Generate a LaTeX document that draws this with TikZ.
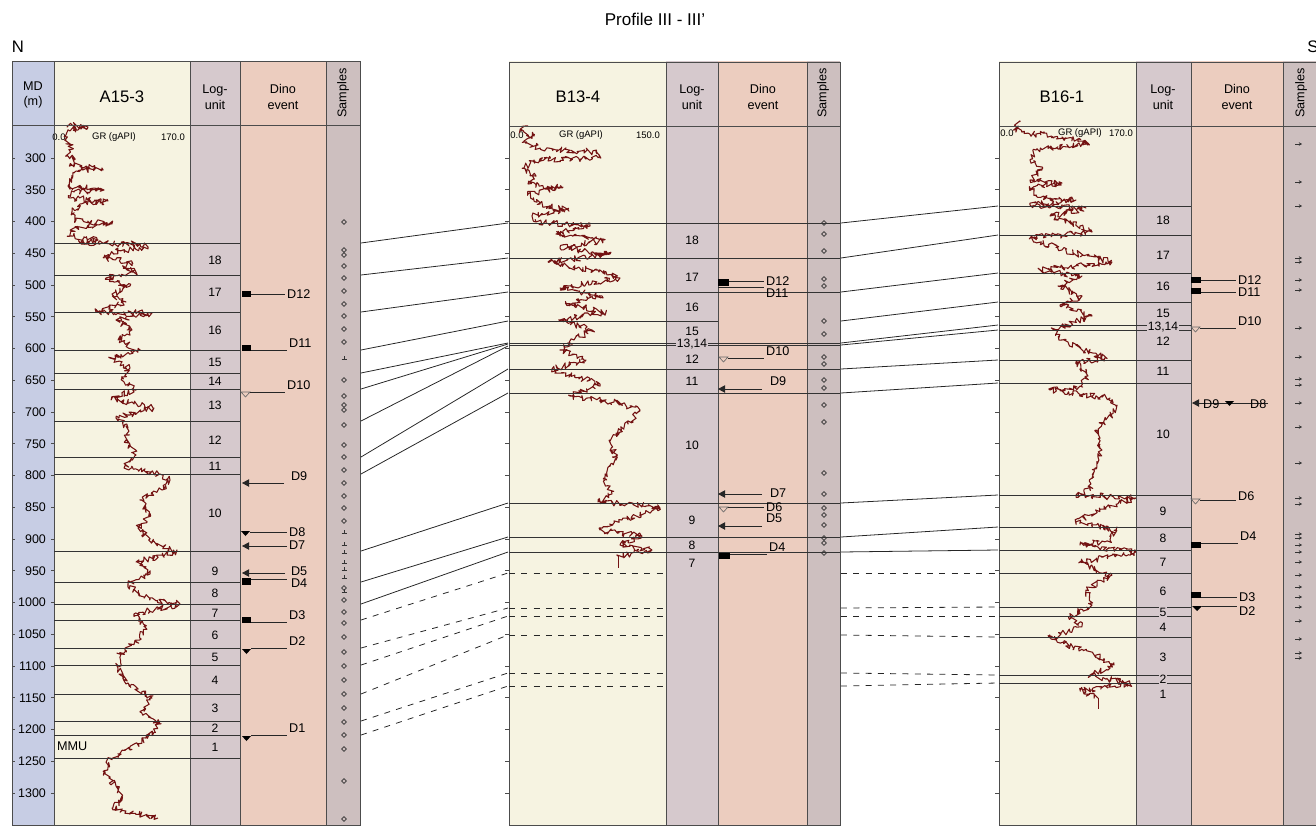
\documentclass[tikz,border=0pt]{standalone}
\usepackage{fontspec}
\setmainfont{Liberation Sans}
\usetikzlibrary{arrows.meta,shapes.geometric,decorations.pathmorphing}

\definecolor{mdcol}{RGB}{199,205,228}
\definecolor{grcol}{RGB}{246,243,225}
\definecolor{lucol}{RGB}{214,201,205}
\definecolor{dinocol}{RGB}{236,205,191}
\definecolor{smpcol}{RGB}{205,191,191}
\definecolor{grlog}{RGB}{115,18,18}

\newcommand{\fsz}[1]{\fontsize{#1}{#1}\selectfont}

\begin{document}
\begin{tikzpicture}[x=0.02cm,y=-0.02cm,
	frame/.style={draw=black!70,line width=0.5pt},
	unitline/.style={draw=black!80,line width=0.45pt},
	corr/.style={draw=black!85,line width=0.45pt},
	corrdash/.style={corr,dash pattern=on 3.4pt off 3.6pt},
	grtrace/.style={draw=grlog,line width=0.6pt,line join=round,decorate,
		decoration={random steps,segment length=0.9pt,amplitude=1.8pt}},
	hdr/.style={align=center,font=\fontsize{7.2}{9}\selectfont},
	wellname/.style={font=\fsz{9.5}},
	depth/.style={anchor=east,inner sep=1pt,font=\fsz{7.1}},
	lu/.style={inner sep=0.6pt,font=\fsz{6.9}},
	dlab/.style={anchor=west,inner sep=1pt,font=\fsz{7.2}},
	grscale/.style={inner sep=0.5pt,font=\fsz{5.4}},
	evline/.style={draw=black!85,line width=0.45pt},
	evarrow/.style={evline,-{Triangle[length=4pt,width=4.2pt]}},
	evopen/.style={draw=black!60,line width=0.35pt},
	smp/.style={diamond,draw=black!80,line width=0.4pt,inner sep=0pt,minimum size=2.9pt},
	smpmark/.style={draw=black!80,line width=0.4pt},
	smparrow/.style={draw=black!80,line width=0.4pt,-{Stealth[length=1.8pt,width=2pt]}}]
	\useasboundingbox (0,0) rectangle (1316,829);
	\pgfmathsetseed{2718}

	\foreach \xa/\xb/\cc in {12/54/mdcol,54/190/grcol,190/240/lucol,240/326/dinocol,326/360/smpcol,
		509/666/grcol,666/718/lucol,718/807/dinocol,807/840/smpcol,
		999/1136/grcol,1136/1191/lucol,1191/1283/dinocol,1283/1316/smpcol}
		\fill[\cc] (\xa,61) rectangle (\xb,825);

	\node[font=\fsz{9.7}] (title) at (655,19) {Profile III - III'};
	\node[font=\fsz{9.5}] (north) at (18,47) {N};
	\node[font=\fsz{9.5}] (south) at (1313,47) {S};

	\node[hdr] (a-md) at (33,95) {MD\\(m)};
	\node[wellname] (a-name) at (122,97) {A15-3};
	\node[hdr] (a-lu) at (215,97) {Log-\\unit};
	\node[hdr] (a-dino) at (283,97) {Dino\\event};
	\node[hdr,rotate=90] (a-smp) at (343,93) {Samples};
	\node[wellname] (b-name) at (578,97) {B13-4};
	\node[hdr] (b-lu) at (692,97) {Log-\\unit};
	\node[hdr] (b-dino) at (763,97) {Dino\\event};
	\node[hdr,rotate=90] (b-smp) at (823,93) {Samples};
	\node[wellname] (c-name) at (1062,97) {B16-1};
	\node[hdr] (c-lu) at (1163,97) {Log-\\unit};
	\node[hdr] (c-dino) at (1237,97) {Dino\\event};
	\node[hdr,rotate=90] (c-smp) at (1301,93) {Samples};

	\node[grscale] (a-gr0) at (59,137) {0.0};
	\node[grscale] (a-gr) at (114,137) {GR (gAPI)};
	\node[grscale] (a-gr1) at (173,137) {170.0};
	\node[grscale] (b-gr0) at (517,135) {0.0};
	\node[grscale] (b-gr) at (581,135) {GR (gAPI)};
	\node[grscale] (b-gr1) at (648,135) {150.0};
	\node[grscale] (c-gr0) at (1007,133) {0.0};
	\node[grscale] (c-gr) at (1080,133) {GR (gAPI)};
	\node[grscale] (c-gr1) at (1121,133) {170.0};

	\draw[grtrace] plot coordinates {(68,125) (88,127) (70,131) (66,140) (72,148) (68,156) (74,160) (70,166)
		(102,168) (76,171) (72,178) (68,186) (104,190) (74,192) (70,198) (108,201) (80,204) (72,212) (76,220)
		(112,224) (74,228) (70,236) (98,240) (80,243) (140,244) (148,247) (112,252) (104,258) (132,262)
		(124,268) (136,272) (106,278) (130,286) (112,294) (126,302) (96,312) (152,313) (116,320) (132,330)
		(118,340) (140,350) (110,358) (130,368) (122,378) (136,390) (112,398) (154,408) (116,418) (128,428)
		(126,440) (136,455) (124,468) (160,474) (170,480) (162,490) (140,500) (150,515) (138,528) (152,542)
		(176,552) (136,562) (150,574) (128,584) (140,596) (180,604) (134,614) (146,628) (136,642) (120,654)
		(118,668) (126,684) (152,698) (140,712) (160,724) (146,738) (130,750) (110,758) (104,772) (116,786)
		(122,800) (112,808) (158,818)};
	\draw[grtrace] plot coordinates {(528,126) (520,130) (534,136) (524,142) (540,148) (596,152) (600,158)
		(534,160) (524,168) (536,176) (528,184) (562,188) (528,194) (540,204) (568,210) (532,216) (536,222)
		(590,226) (556,234) (604,240) (560,248) (610,254) (548,262) (592,270) (620,278) (560,288) (602,296)
		(566,304) (606,312) (560,320) (592,330) (574,340) (560,350) (586,360) (552,369) (600,384) (580,392)
		(570,396) (614,402) (640,410) (628,424) (610,440) (616,460) (604,478) (612,494) (598,502) (640,505)
		(660,508) (622,520) (600,530) (642,536) (620,545) (652,550) (618,556)};
	\draw[grlog,line width=0.5pt] (618,556) -- (618,568);
	\draw[grtrace] plot coordinates {(1020,122) (1014,130) (1036,134) (1062,137) (1088,143) (1036,150)
		(1030,160) (1042,170) (1030,180) (1062,183) (1030,188) (1036,196) (1076,200) (1030,205) (1086,208)
		(1050,216) (1080,226) (1092,232) (1030,238) (1062,250) (1112,262) (1040,270) (1082,276) (1058,286)
		(1082,296) (1060,305) (1092,316) (1054,330) (1062,340) (1082,350) (1106,358) (1076,362) (1088,376)
		(1080,386) (1050,390) (1110,398) (1116,410) (1096,430) (1102,450) (1094,470) (1090,490) (1076,495)
		(1136,498) (1100,510) (1076,522) (1116,530) (1110,540) (1080,545) (1136,552) (1080,562) (1110,576)
		(1086,590) (1092,605) (1070,616) (1082,626) (1050,638) (1096,655) (1114,665) (1090,675) (1130,684)
		(1080,690) (1098,698)};
	\draw[grlog,line width=0.5pt] (1098,698) -- (1098,709);

	\draw[frame] (12,61) rectangle (360,825);
	\draw[frame] (509,62) rectangle (840,825);
	\draw[frame] (1316,62) -| (999,825) -- (1316,825);
	\foreach \x in {54,190,240,326,666,718,807,1136,1191,1283}
		\draw[frame] (\x,62) -- (\x,825);
	\draw[frame] (12,125) -- (360,125) (509,126) -- (840,126) (999,126) -- (1316,126);

	\foreach \d in {300,350,...,1300}{
		\pgfmathsetmacro{\yy}{158+(\d-300)*0.635}
		\draw[frame] (12,\yy) -- (15,\yy) (51,\yy) -- (54,\yy) (505,\yy) -- (509,\yy) (995,\yy) -- (999,\yy);
		\node[depth] (md\d) at (48,\yy) {\d};
	}

	\foreach \y in {243,275,312,350,373,389,421,457,474,551,582,604,620,648,665,694,721,735,758}
		\draw[unitline] (54,\y) -- (240,\y);
	\foreach \y in {223,258,292,343,345,369,393,503,537,552}
		\draw[unitline] (509,\y) -- (840,\y);
	\draw[unitline] (509,321) -- (718,321);
	\foreach \y in {573,608,616,635,673,686}
		\draw[corrdash] (509,\y) -- (666,\y);
	\foreach \y in {206,235,273,302,325,330,360,383,495,527,550,573,607,616,637,675,683}
		\draw[unitline] (999,\y) -- (1191,\y);

	\foreach \ya/\yb [count=\i] in {243/223,275/258,312/292,350/321,373/343,389/344,421/346,457/369,
		474/393,551/503,582/537,604/552}{
		\coordinate (aR\i) at (361,\ya);
		\coordinate (bL\i) at (508,\yb);
		\draw[corr] (aR\i) -- (bL\i);
	}
	\foreach \ya/\yb [count=\i] in {620/573,648/608,665/616,694/635,721/673,735/686}{
		\coordinate (aRd\i) at (361,\ya);
		\coordinate (bLd\i) at (508,\yb);
		\draw[corrdash] (aRd\i) -- (bLd\i);
	}
	\foreach \ya/\yb [count=\i] in {223/206,258/235,292/273,321/302,343/325,345/330,369/360,393/383,
		503/495,537/527,552/550}{
		\coordinate (bR\i) at (841,\ya);
		\coordinate (cL\i) at (998,\yb);
		\draw[corr] (bR\i) -- (cL\i);
	}
	\foreach \ya/\yb [count=\i] in {573/573,608/607,616/616,635/637,673/675,686/683}{
		\coordinate (bRd\i) at (841,\ya);
		\coordinate (cLd\i) at (998,\yb);
		\draw[corrdash] (bRd\i) -- (cLd\i);
	}

	\foreach \n/\y in {18/260,17/292,16/330,15/362,14/381,13/405,12/440,11/466,10/513,9/571,8/593,
		7/613,6/635,5/657,4/680,3/708,2/728,1/747}
		\node[lu] (aU\n) at (215,\y) {\n};
	\foreach \n/\y in {18/240,17/277,16/307,15/331,12/359,11/381,10/445,9/520,8/545,7/563}
		\node[lu] (bU\n) at (692,\y) {\n};
	\node[lu,fill=lucol] (bU13) at (692,344) {13,14};
	\foreach \n/\y in {18/220,17/255,16/286,15/313,12/341,11/371,10/434,9/511,8/538,7/562,6/591,
		4/627,3/657,1/694}
		\node[lu] (cU\n) at (1163,\y) {\n};
	\node[lu,fill=lucol] (cU13) at (1163,327) {13,14};
	\node[lu,fill=lucol] (cU5) at (1163,612) {5};
	\node[lu,fill=lucol] (cU2) at (1163,679) {2};
	\node[dlab] (mmu) at (55,746) {MMU};

	\fill (242,291) rectangle (251,297);
	\draw[evline] (251,294) -- (285,294) node[dlab] (aD12) {D12};
	\fill (242,345) rectangle (251,351);
	\draw[evline] (251,350) -- (287,350) node[dlab,anchor=south west] (aD11) {D11};
	\draw[evopen] (241,392) -- (250,392) -- (245.5,397) -- cycle;
	\draw[evline] (250,392) -- (285,392) node[dlab,anchor=south west] (aD10) {D10};
	\draw[evarrow] (284,483) -- (242,483);
	\node[dlab] (aD9) at (289,476) {D9};
	\fill (241,531) -- (250,531) -- (245.5,536) -- cycle;
	\draw[evline] (250,532) -- (287,532) node[dlab] (aD8) {D8};
	\draw[evarrow] (287,546) -- (242,546);
	\node[dlab] (aD7) at (287,545) {D7};
	\draw[evarrow] (285,573) -- (242,573);
	\node[dlab] (aD5) at (289,571) {D5};
	\fill (242,578) rectangle (251,585);
	\draw[evline] (251,579) -- (287,579);
	\node[dlab] (aD4) at (289,583) {D4};
	\fill (242,617) rectangle (251,623);
	\draw[evline] (251,622) -- (287,622) node[dlab,anchor=south west] (aD3) {D3};
	\fill (242,649) -- (251,649) -- (246.5,654) -- cycle;
	\draw[evline] (251,648) -- (287,648) node[dlab,anchor=south west] (aD2) {D2};
	\fill (242,736) -- (251,736) -- (246.5,741) -- cycle;
	\draw[evline] (251,735) -- (287,735) node[dlab,anchor=south west] (aD1) {D1};

	\fill (718,279) rectangle (729,286);
	\draw[evline] (729,281) -- (764,281) node[dlab] (bD12) {D12};
	\draw[evline] (718,287) -- (764,287);
	\node[dlab] (bD11) at (764,293) {D11};
	\draw[evopen] (719,357) -- (728,357) -- (723.5,362) -- cycle;
	\draw[evline] (728,358) -- (764,358) node[dlab,anchor=south west] (bD10) {D10};
	\draw[evarrow] (762,389) -- (718,389);
	\node[dlab] (bD9) at (768,381) {D9};
	\draw[evarrow] (762,494) -- (718,494);
	\node[dlab] (bD7) at (768,493) {D7};
	\draw[evopen] (719,507) -- (728,507) -- (723.5,512) -- cycle;
	\draw[evline] (728,507) -- (764,507) node[dlab] (bD6) {D6};
	\draw[evarrow] (762,526) -- (718,526);
	\node[dlab] (bD5) at (764,518) {D5};
	\fill (719,553) rectangle (730,559);
	\draw[evline] (730,554) -- (767,554) node[dlab,anchor=south west] (bD4) {D4};

	\fill (1191,277) rectangle (1201,283);
	\draw[evline] (1201,280) -- (1236,280) node[dlab] (cD12) {D12};
	\fill (1191,288) rectangle (1201,294);
	\draw[evline] (1201,292) -- (1236,292) node[dlab] (cD11) {D11};
	\draw[evopen] (1191,327) -- (1200,327) -- (1195.5,332) -- cycle;
	\draw[evline] (1200,328) -- (1236,328) node[dlab,anchor=south west] (cD10) {D10};
	\draw[evarrow] (1268,403) -- (1192,403);
	\node[dlab] (cD9) at (1201,404) {D9};
	\fill (1225,401) -- (1234,401) -- (1229.5,406) -- cycle;
	\node[dlab] (cD8) at (1248,404) {D8};
	\draw[evopen] (1191,499) -- (1200,499) -- (1195.5,504) -- cycle;
	\draw[evline] (1200,500) -- (1236,500);
	\node[dlab] (cD6) at (1236,496) {D6};
	\fill (1191,542) rectangle (1201,548);
	\draw[evline] (1201,543) -- (1238,543) node[dlab,anchor=south west] (cD4) {D4};
	\fill (1191,592) rectangle (1201,598);
	\draw[evline] (1201,597) -- (1237,597) node[dlab] (cD3) {D3};
	\fill (1192,606) -- (1202,606) -- (1197,611) -- cycle;
	\draw[evline] (1202,606) -- (1237,606);
	\node[dlab] (cD2) at (1237,611) {D2};

	\foreach \y in {222,250,255,266,278,291,304,316,329,342,380,396,405,410,425,445,457,470,483,496,
		508,521,588,600,612,623,637,652,666,680,694,708,722,735,749,781,819}
		\node[smp] (sa\y) at (344,\y) {};
	\foreach \y in {359,533,545,553,563,570,578,592}
		\draw[smpmark] (341.5,\y) -- (346.5,\y) (344,\y-3) -- (344,\y);
	\foreach \y in {223,234,251,279,286,321,334,357,364,380,388,405,422,473,494,508,515,525,538,543,553}
		\node[smp] (sb\y) at (824,\y) {};
	\foreach \y in {144,182,206,258,262,280,290,328,357,379,385,403,427,463,498,504,534,538,545,552,
		562,575,587,597,607,621,639,653,658}
		\draw[smparrow] (1295,\y) -- (1302,\y);
\end{tikzpicture}
\end{document}
